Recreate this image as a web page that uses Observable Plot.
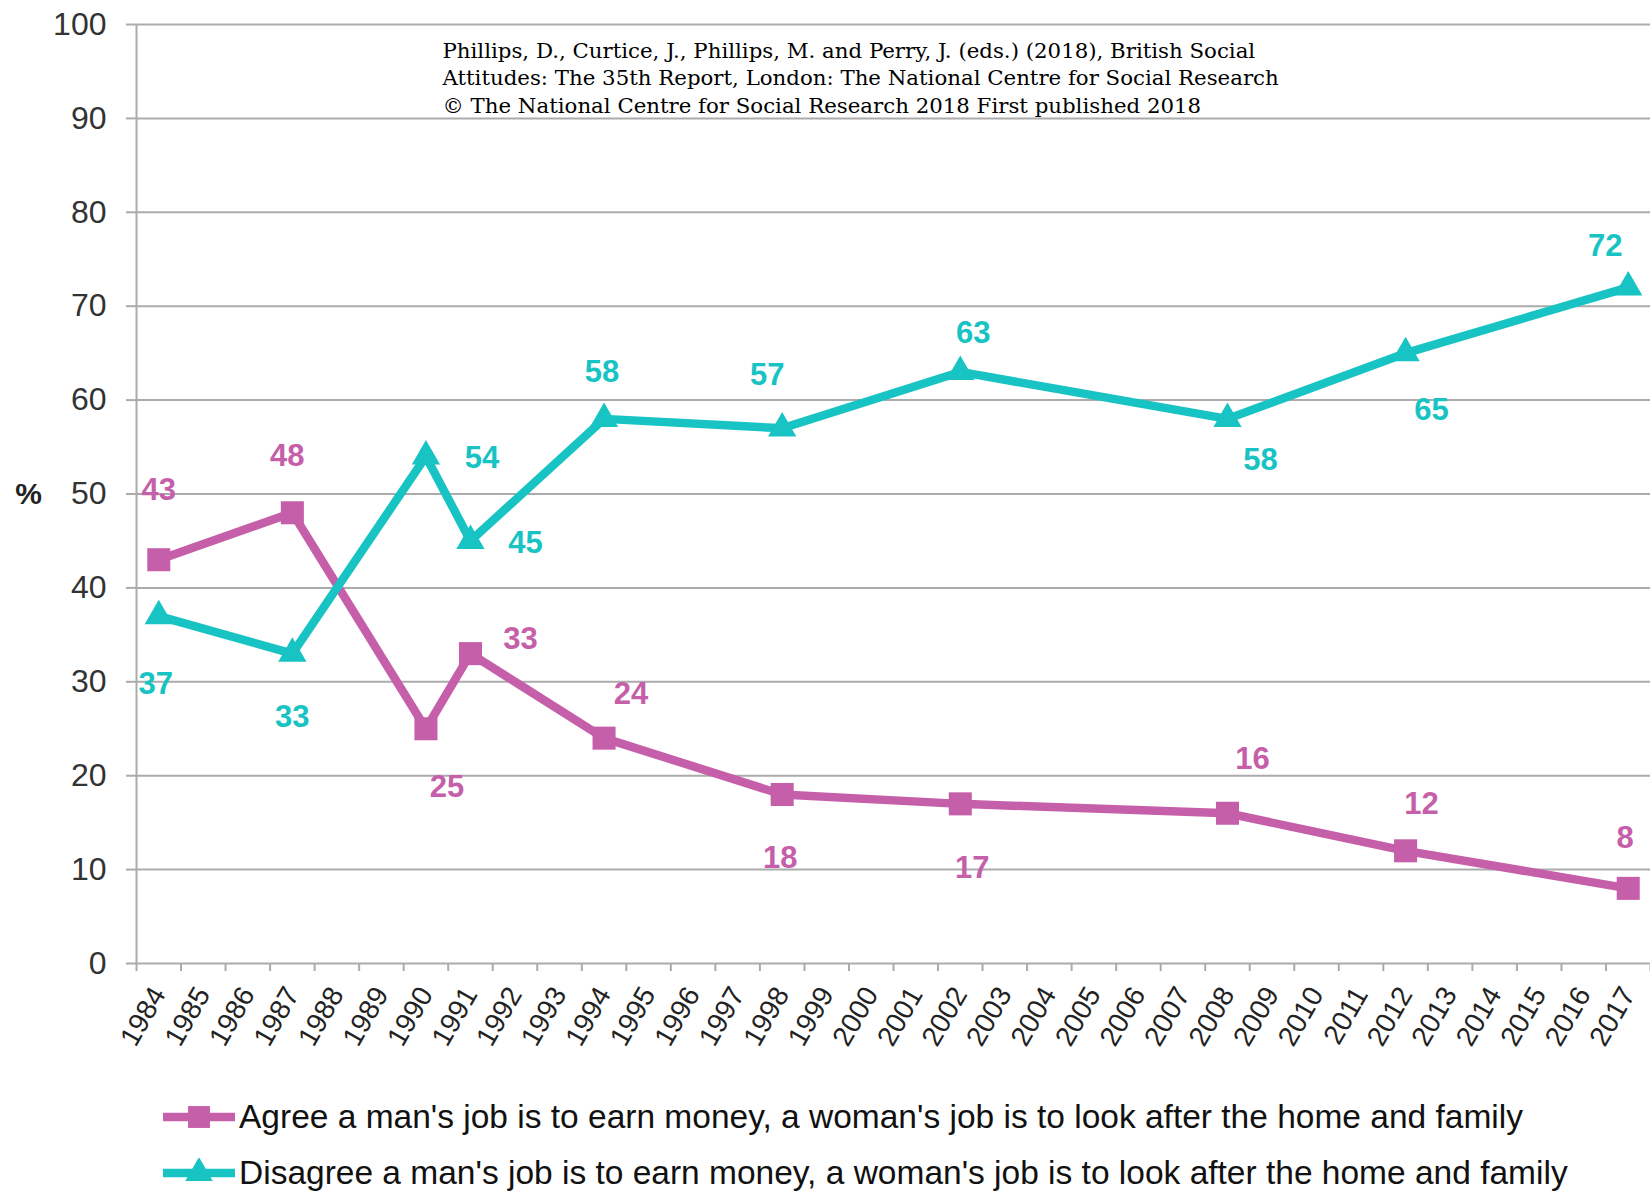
<!DOCTYPE html>
<html>
<head>
<meta charset="utf-8">
<script src="https://cdn.jsdelivr.net/npm/d3@7"></script>
<script src="https://cdn.jsdelivr.net/npm/@observablehq/plot@0.6"></script>
<style>
  html, body { margin: 0; padding: 0; background: #fff; }
  #chart { position: relative; width: 1650px; }
  .legend { font-family: "Liberation Sans", Arial, sans-serif; font-size: 33.5px; color: #111; padding-left: 163px; margin-top: 24px; }
  .legend .row { height: 56px; display: flex; align-items: center; }
  .legend svg { flex: none; margin-right: 4px; }
</style>
</head>
<body>
<div id="chart"></div>
<script>
// ---- data ----
const tickYears = [1984, 1985, 1986, 1987, 1988, 1989, 1990, 1991, 1992, 1993, 1994, 1995, 1996, 1997, 1998, 1999, 2000, 2001, 2002, 2003, 2004, 2005, 2006, 2007, 2008, 2009, 2010, 2011, 2012, 2013, 2014, 2015, 2016, 2017];
const surveyYears = [1984, 1987, 1990, 1991, 1994, 1998, 2002, 2008, 2012, 2017];
const agreeValues = [43, 48, 25, 33, 24, 18, 17, 16, 12, 8];
const disagreeValues = [37, 33, 54, 45, 58, 57, 63, 58, 65, 72];
const yTicks = [0, 10, 20, 30, 40, 50, 60, 70, 80, 90, 100];
const agreeName = "Agree a man's job is to earn money, a woman's job is to look after the home and family";
const disagreeName = "Disagree a man's job is to earn money, a woman's job is to look after the home and family";
const citation = "Phillips, D., Curtice, J., Phillips, M. and Perry, J. (eds.) (2018), British Social\nAttitudes: The 35th Report, London: The National Centre for Social Research\n© The National Centre for Social Research 2018 First published 2018";

// ---- label placement (pixel offsets from each point) ----
const agreeLabelOffsets = [[0,-70],[-5,-57],[21,58],[50,-15],[27,-44],[-2,64],[12,64],[25,-54],[16,-47],[-3,-50]];
const disagreeLabelOffsets = [[-3,68],[0,63],[56,2],[55,2],[-2,-47],[-15,-53],[13,-39],[33,41],[26,57],[-23,-41]];

const pink = "#c65fa9";
const teal = "#17c3c3";
const gridColor = "#ababab";

const agreeData = surveyYears.map((year, i) => ({year, value: agreeValues[i]}));
const disagreeData = surveyYears.map((year, i) => ({year, value: disagreeValues[i]}));
const boundaries = [tickYears[0] - 0.5, ...tickYears.map(y => y + 0.5)];

const labelMarks = (data, offsets, color) => data.map((d, i) =>
  Plot.text([d], {x: "year", y: "value", text: d => String(d.value), fill: color,
    fontSize: 31, fontWeight: "bold", dx: offsets[i][0], dy: offsets[i][1]}));

const chart = Plot.plot({
  width: 1650,
  height: 1065,
  marginLeft: 136,
  marginRight: 0,
  marginTop: 24,
  marginBottom: 102,
  x: {domain: [boundaries[0], boundaries[boundaries.length - 1]]},
  y: {domain: [0, 100]},
  style: {fontFamily: "'Liberation Sans', Arial, sans-serif", background: "white", overflow: "visible"},
  marks: [
    Plot.gridY(yTicks, {stroke: gridColor, strokeOpacity: 1, strokeWidth: 2}),
    Plot.axisY(yTicks, {tickSize: 10, tickPadding: 20, fontSize: 32, stroke: gridColor, strokeWidth: 2, fill: "#333", label: null}),
    Plot.axisX(boundaries, {tickSize: 8, tickFormat: () => "", stroke: gridColor, strokeWidth: 2, label: null}),
    Plot.axisX(tickYears, {tickSize: 0, tickPadding: 26, tickRotate: -60, fontSize: 28, fill: "#222", tickFormat: d => String(d), label: null}),
    Plot.ruleX([boundaries[0]], {stroke: gridColor, strokeWidth: 2}),
    Plot.text(["%"], {frameAnchor: "left", dx: -108, text: d => d, fontSize: 30, fontWeight: "bold", fill: "#222", textAnchor: "middle"}),
    Plot.text([citation], {frameAnchor: "top-left", dx: 306, dy: 14, text: d => d, fontFamily: "'DejaVu Serif', serif", fontSize: 21.3, lineHeight: 1.29, textAnchor: "start", fill: "#000"}),
    Plot.line(agreeData, {x: "year", y: "value", stroke: pink, strokeWidth: 8.5, strokeLinejoin: "miter", strokeLinecap: "butt"}),
    Plot.dot(agreeData, {x: "year", y: "value", symbol: "square", r: 13, fill: pink}),
    Plot.line(disagreeData, {x: "year", y: "value", stroke: teal, strokeWidth: 8.5, strokeLinejoin: "miter", strokeLinecap: "butt"}),
    Plot.dot(disagreeData, {x: "year", y: "value", symbol: "triangle", r: 10.5, fill: teal}),
    ...labelMarks(agreeData, agreeLabelOffsets, pink),
    ...labelMarks(disagreeData, disagreeLabelOffsets, teal)
  ]
});

const root = document.getElementById("chart");
root.appendChild(chart);

// legend
const legend = document.createElement("div");
legend.className = "legend";
const items = [
  {name: agreeName, color: pink, symbol: "square"},
  {name: disagreeName, color: teal, symbol: "triangle"}
];
for (const item of items) {
  const row = document.createElement("div");
  row.className = "row";
  const svg = d3.create("svg").attr("width", 72).attr("height", 30);
  svg.append("line").attr("x1", 0).attr("x2", 72).attr("y1", 15).attr("y2", 15)
    .attr("stroke", item.color).attr("stroke-width", 8.5);
  const sym = item.symbol === "square" ? d3.symbolSquare : d3.symbolTriangle;
  svg.append("path").attr("transform", "translate(36,15)")
    .attr("d", d3.symbol(sym, item.symbol === "square" ? 480 : 330)())
    .attr("fill", item.color);
  row.appendChild(svg.node());
  const span = document.createElement("span");
  span.textContent = item.name;
  row.appendChild(span);
  legend.appendChild(row);
}
root.appendChild(legend);
</script>
</body>
</html>
